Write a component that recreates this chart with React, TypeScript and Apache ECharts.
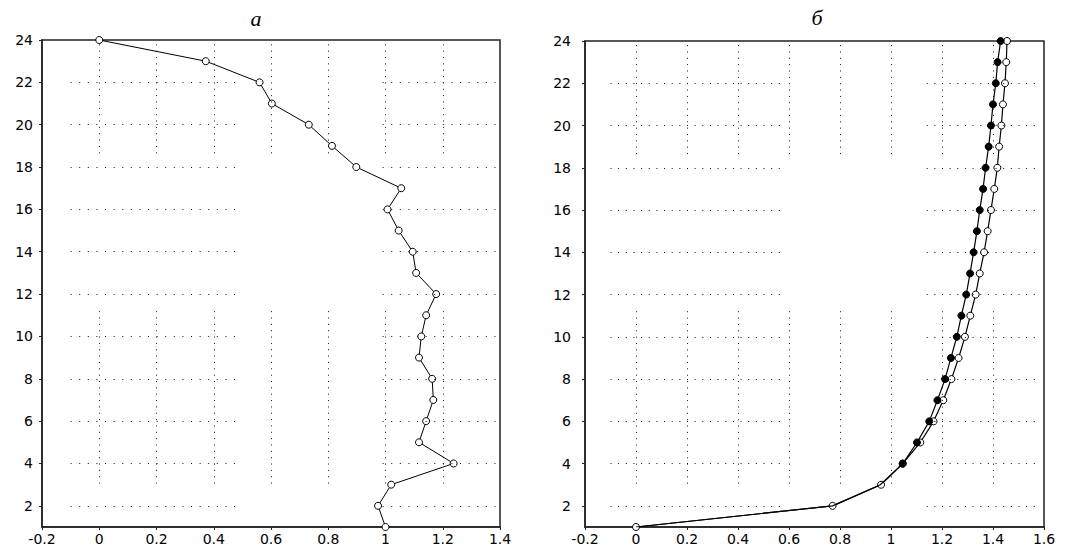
import React, { useEffect, useRef } from "react";
import * as echarts from "echarts";

// ---- data ----
const depthLevels = [1, 2, 3, 4, 5, 6, 7, 8, 9, 10, 11, 12, 13, 14, 15, 16, 17, 18, 19, 20, 21, 22, 23, 24];
const profileA = [1.0, 0.974, 1.02, 1.238, 1.117, 1.142, 1.167, 1.163, 1.117, 1.125, 1.142, 1.177, 1.107, 1.095, 1.046, 1.007, 1.055, 0.898, 0.813, 0.732, 0.603, 0.56, 0.372, 0.0];
const profileBSolid = [0, 0.771, 0.958, 1.046, 1.102, 1.15, 1.182, 1.212, 1.235, 1.258, 1.276, 1.295, 1.31, 1.324, 1.337, 1.348, 1.361, 1.371, 1.383, 1.392, 1.4, 1.411, 1.418, 1.43];
const profileBHollow = [0, 0.771, 0.961, 1.046, 1.115, 1.167, 1.205, 1.237, 1.265, 1.29, 1.311, 1.332, 1.348, 1.365, 1.379, 1.392, 1.405, 1.417, 1.424, 1.433, 1.439, 1.447, 1.452, 1.455];
const solidHiddenUpTo = 3; // solid markers hidden under hollow ones at these depths

const yTickValues = [2, 4, 6, 8, 10, 12, 14, 16, 18, 20, 22, 24];
const titles = ["а", "б"];

// dotted grid segments (data units)
const hGridLevels = [2, 4, 6, 8, 10, 12, 14, 16, 18, 20, 22];
const hRangesA = [[-0.1, 0.49], [0.99, 1.385]];
const hRangesB = [[-0.1, 0.58], [1.14, 1.57]];
const vGridA = [0, 0.2, 0.4, 0.6, 0.8, 1.0, 1.2];
const vGridB = [0, 0.2, 0.4, 0.6, 0.8, 1.0, 1.2, 1.4];
const vRanges = [[3.05, 11.35], [18.65, 23.85]];

function hSegments(ranges: number[][]) {
  const out: any[] = [];
  hGridLevels.forEach((y) => ranges.forEach(([a, b]) => out.push([{ coord: [a, y] }, { coord: [b, y] }])));
  return out;
}
function vSegments(xs: number[]) {
  const out: any[] = [];
  xs.forEach((x) => vRanges.forEach(([a, b]) => out.push([{ coord: [x, a] }, { coord: [x, b] }])));
  return out;
}

const dotColor = "#111";
function gridSeries(idx: number, data: any[], dash: number[]) {
  return {
    type: "line",
    xAxisIndex: idx,
    yAxisIndex: idx,
    data: [],
    silent: true,
    z: 1,
    markLine: {
      silent: true,
      symbol: ["none", "none"],
      label: { show: false },
      emphasis: { disabled: true },
      lineStyle: { color: dotColor, width: 1, type: dash, cap: "butt", opacity: 1 },
      data,
    },
  };
}

const labelFont = { color: "#000", fontFamily: "DejaVu Sans", fontSize: 14 };

function xAxisCfg(idx: number, max: number) {
  return {
    type: "value",
    gridIndex: idx,
    min: -0.2,
    max,
    interval: 0.2,
    axisLine: { show: true, onZero: false, lineStyle: { color: "#222", width: 1.5 } },
    axisTick: { show: true, length: 3, lineStyle: { color: "#222" } },
    axisLabel: { ...labelFont, margin: 5 },
    splitLine: { show: false },
  };
}
function yAxisCfg(idx: number, margin: number) {
  return {
    type: "value",
    gridIndex: idx,
    min: 1,
    max: 24,
    axisLine: { show: true, onZero: false, lineStyle: { color: "#222", width: 1.5 } },
    axisTick: { show: true, length: 3, customValues: yTickValues, lineStyle: { color: "#222" } },
    axisLabel: { ...labelFont, margin, customValues: yTickValues },
    splitLine: { show: false },
  };
}

export default function App() {
  const ref = useRef<HTMLDivElement>(null);
  useEffect(() => {
    if (!ref.current) return;
    const chart = echarts.init(ref.current, undefined, { renderer: "svg" });
    const dataA = depthLevels.map((y, i) => [profileA[i], y]);
    const dataBH = depthLevels.map((y, i) => [profileBHollow[i], y]);
    const dataBS = depthLevels.map((y, i) =>
      y <= solidHiddenUpTo ? { value: [profileBSolid[i], y], symbol: "none" } : [profileBSolid[i], y]
    );
    chart.setOption({
      animation: false,
      backgroundColor: "#fff",
      grid: [
        { left: 42, top: 40, width: 458, height: 487, show: true, borderColor: "#222", borderWidth: 1.5, backgroundColor: "transparent" },
        { left: 585, top: 41, width: 459, height: 486, show: true, borderColor: "#222", borderWidth: 1.5, backgroundColor: "transparent" },
      ],
      xAxis: [xAxisCfg(0, 1.4), xAxisCfg(1, 1.6)],
      yAxis: [yAxisCfg(0, 9), yAxisCfg(1, 14)],
      graphic: [
        { type: "text", x: 256, y: 18, style: { text: titles[0], font: 'italic 22px "Liberation Serif"', fill: "#000", textAlign: "center", textVerticalAlign: "middle" } },
        { type: "text", x: 817, y: 17, style: { text: titles[1], font: 'italic 22px "Liberation Serif"', fill: "#000", textAlign: "center", textVerticalAlign: "middle" } },
      ],
      series: [
        gridSeries(0, hSegments(hRangesA), [1, 7.6]),
        gridSeries(0, vSegments(vGridA), [1, 5.35]),
        gridSeries(1, hSegments(hRangesB), [1, 6.65]),
        gridSeries(1, vSegments(vGridB), [1, 5.35]),
        {
          type: "line",
          xAxisIndex: 0,
          yAxisIndex: 0,
          data: dataA,
          symbol: "circle",
          symbolSize: 7,
          z: 3,
          lineStyle: { color: "#000", width: 1 },
          itemStyle: { color: "#fff", borderColor: "#000", borderWidth: 1 },
        },
        {
          type: "line",
          xAxisIndex: 1,
          yAxisIndex: 1,
          data: dataBH,
          symbol: "circle",
          symbolSize: 7,
          z: 3,
          lineStyle: { color: "#000", width: 1.2 },
          itemStyle: { color: "#fff", borderColor: "#000", borderWidth: 1 },
        },
        {
          type: "line",
          xAxisIndex: 1,
          yAxisIndex: 1,
          data: dataBS,
          symbol: "circle",
          symbolSize: 7,
          z: 4,
          lineStyle: { color: "#000", width: 1.2 },
          itemStyle: { color: "#000", borderColor: "#000", borderWidth: 1 },
        },
      ],
    });
    return () => chart.dispose();
  }, []);
  return <div ref={ref} style={{ position: "fixed", left: 0, top: 0, width: 1077, height: 552 }} />;
}
